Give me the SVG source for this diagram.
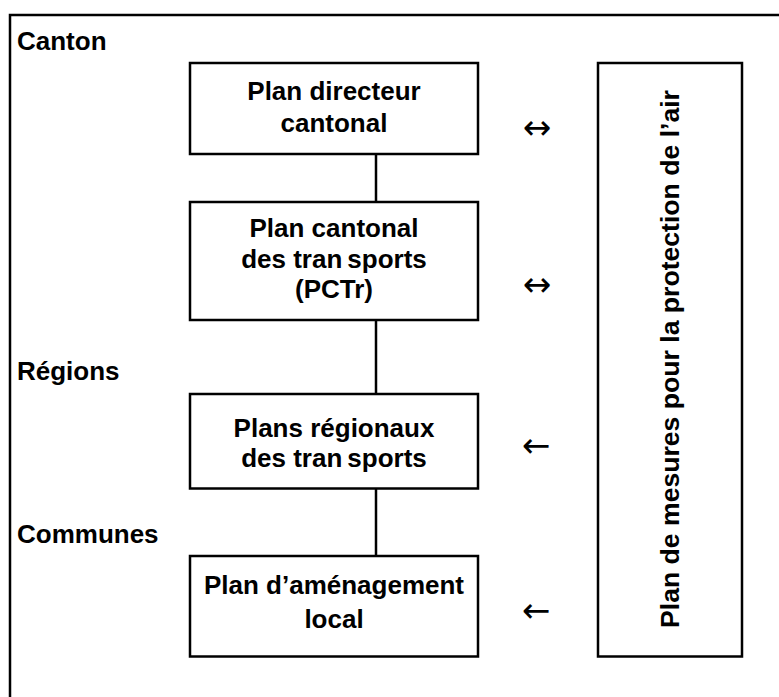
<svg xmlns="http://www.w3.org/2000/svg" width="779" height="697" viewBox="0 0 779 697">
<style>
.box{fill:#fff;stroke:#000;stroke-width:2.5}
.frame{fill:none;stroke:#000;stroke-width:2.5}
.t{font-family:"Liberation Sans",Arial,sans-serif;font-weight:bold;font-size:26px;fill:#000}
.c{text-anchor:middle}
.ar{font-family:"DejaVu Sans","Liberation Sans",sans-serif;font-size:34px;fill:#000;text-anchor:middle}
.conn{stroke:#000;stroke-width:2.5;fill:none}
</style>
<rect class="frame" x="10" y="15" width="800" height="720"/>
<g id="level-labels">
<text class="t" x="17" y="50">Canton</text>
<text class="t" x="17" y="380">Régions</text>
<text class="t" x="17" y="543">Communes</text>
</g>
<g id="connectors">
<line class="conn" x1="376" y1="154" x2="376" y2="202"/>
<line class="conn" x1="376" y1="320" x2="376" y2="394"/>
<line class="conn" x1="376" y1="488" x2="376" y2="556"/>
</g>
<g id="plan-directeur">
<rect class="box" x="190" y="63" width="288" height="91"/>
<text class="t c" x="334" y="100">Plan directeur</text>
<text class="t c" x="334" y="132">cantonal</text>
</g>
<g id="pctr">
<rect class="box" x="190" y="202" width="288" height="118"/>
<text class="t c" x="334" y="237">Plan cantonal</text>
<text class="t c" x="334" y="268">des tran<tspan dx="5">sports</tspan></text>
<text class="t c" x="334" y="298">(PCTr)</text>
</g>
<g id="plans-regionaux">
<rect class="box" x="190" y="394" width="288" height="94.5"/>
<text class="t c" x="334" y="437">Plans régionaux</text>
<text class="t c" x="334" y="467">des tran<tspan dx="5">sports</tspan></text>
</g>
<g id="plan-amenagement">
<rect class="box" x="190" y="556" width="288" height="100.5"/>
<text class="t c" x="334" y="594">Plan d’aménagement</text>
<text class="t c" x="334" y="628">local</text>
</g>
<g id="plan-mesures">
<rect class="box" x="598" y="63" width="144" height="593.5"/>
<text class="t c" transform="translate(679,359) rotate(-90)" x="0" y="0" style="font-size:26.6px">Plan de mesures pour la protection de l’air</text>
</g>
<g id="relations">
<text class="ar" x="537" y="139">↔</text>
<text class="ar" x="537" y="296">↔</text>
<text class="ar" x="536" y="457">←</text>
<text class="ar" x="536" y="622">←</text>
</g>
</svg>
